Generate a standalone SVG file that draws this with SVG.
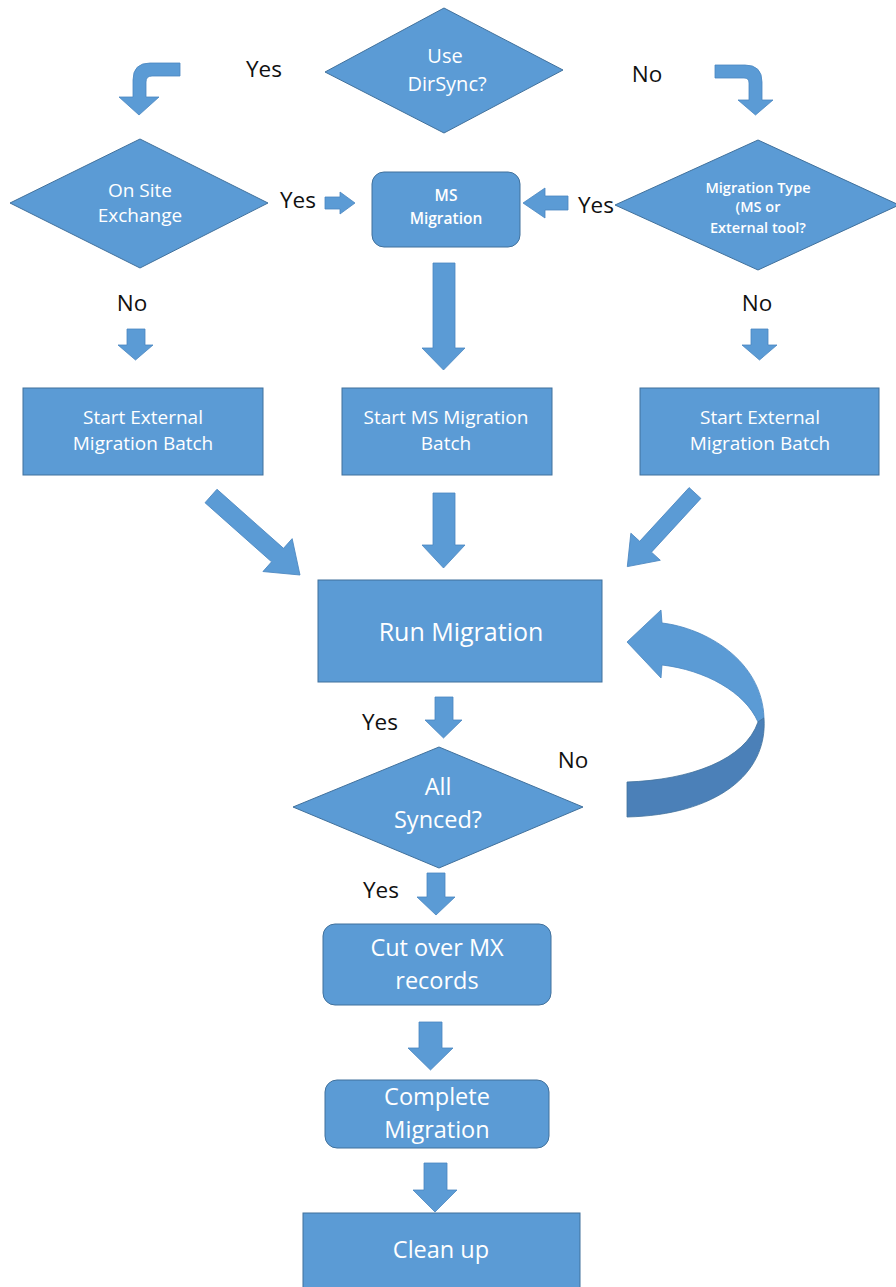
<svg xmlns="http://www.w3.org/2000/svg" width="896" height="1287" viewBox="0 0 896 1287">
<style>
.s{fill:#5B9BD5;stroke:#41719C;stroke-width:1}
.a{fill:#5B9BD5;stroke:#4a86c0;stroke-width:0.8}
.t{font-family:"Open Sans",Lato,sans-serif;fill:#fff;text-anchor:middle}
.l{font-family:"Open Sans",Lato,sans-serif;fill:#111;font-size:22.5px;text-anchor:middle}
</style>
<rect width="896" height="1287" fill="#fff"/>
<g id="connectors">
<path class="a" d="M180 63 L150 63 Q133 63 133 80 L133 97 L119 97 L139 115 L159 97 L146 97 L146 82 Q146 76 152 76 L180 76 Z"/>
<path class="a" d="M715 65 L745 65 Q762 65 762 82 L762 100 L773 100 L755.5 115 L738 100 L749 100 L749 83 Q749 78 744 78 L715 78 Z"/>
<path class="a" d="M325 197 L340 197 L340 192 L355 203 L340 214 L340 209 L325 209 Z"/>
<path class="a" d="M568 196 L545 196 L545 188 L523 203 L545 218 L545 210 L568 210 Z"/>
<path class="a" d="M433 263 L455 263 L455 348 L465 348 L443.5 370 L422 348 L433 348 Z"/>
<path class="a" d="M127 329 L145 329 L145 345 L153 345 L135.5 360 L118 345 L127 345 Z"/>
<path class="a" d="M751 329 L768 329 L768 345 L777 345 L759.5 360 L742 345 L751 345 Z"/>
<polygon class="a" transform="translate(211,496) rotate(41.6)" points="0,-9 89,-9 89,-22 119,0 89,22 89,9 0,9"/>
<path class="a" d="M433 493 L455 493 L455 545 L465 545 L443.5 568 L422 545 L433 545 Z"/>
<polygon class="a" transform="translate(695,493) rotate(132.6)" points="0,-8 73,-8 73,-20 100,0 73,20 73,8 0,8"/>
<path class="a" d="M435 697 L453 697 L453 720 L462 720 L443.5 738 L425 720 L435 720 Z"/>
<path class="a" d="M427 873 L445 873 L445 897 L455 897 L436 915 L417 897 L427 897 Z"/>
<path class="a" d="M419 1022 L442 1022 L442 1048 L453 1048 L430.5 1070 L408 1048 L419 1048 Z"/>
<path class="a" d="M424 1163 L447 1163 L447 1190 L457 1190 L435 1212 L413 1190 L424 1190 Z"/>
<path fill="#5B9BD5" stroke="#4a86c0" stroke-width="0.8" d="M627 642 L661 610 L662 623 C705 628 762 660 764 718 L758 722 C745 692 705 670 662 665 L661 678 Z"/>
<path fill="#4B80B8" stroke="#41719C" stroke-width="0.8" d="M764 718 C768 775 715 815 627 817 L627 782 C690 780 745 760 758 722 Z"/>
</g>
<g id="use-dirsync">
<polygon class="s" points="444,8 563,70 444,133 325,72"/>
<text class="t" font-size="20" x="445" y="63">Use</text>
<text class="t" font-size="20" x="447" y="91">DirSync?</text>
</g>
<g id="label-yes-1"><text class="l" x="264" y="77">Yes</text></g>
<g id="label-no-1"><text class="l" x="647" y="82">No</text></g>
<g id="on-site">
<polygon class="s" points="140,139 268,203 140,268 10,203"/>
<text class="t" font-size="19" x="140" y="197">On Site</text>
<text class="t" font-size="19" x="140" y="222">Exchange</text>
</g>
<g id="label-yes-2"><text class="l" x="298" y="208">Yes</text></g>
<g id="ms-migration">
<rect class="s" x="372" y="172" width="148" height="75" rx="12"/>
<text class="t" font-size="15.5" font-weight="600" x="446" y="201">MS</text>
<text class="t" font-size="15.5" font-weight="600" x="446" y="224">Migration</text>
</g>
<g id="label-yes-3"><text class="l" x="596" y="213">Yes</text></g>
<g id="migration-type">
<polygon class="s" points="758,140 899,205 758,270 615,205"/>
<text class="t" font-size="14.5" font-weight="600" x="758" y="193">Migration Type</text>
<text class="t" font-size="14.5" font-weight="600" x="758" y="212">(MS or</text>
<text class="t" font-size="14.5" font-weight="600" x="758" y="233">External tool?</text>
</g>
<g id="label-no-2"><text class="l" x="132" y="311">No</text></g>
<g id="label-no-3"><text class="l" x="757" y="311">No</text></g>
<g id="start-ext-left">
<rect class="s" x="23" y="388" width="240" height="87"/>
<text class="t" font-size="19" x="143" y="424">Start External</text>
<text class="t" font-size="19" x="143" y="450">Migration Batch</text>
</g>
<g id="start-ms">
<rect class="s" x="342" y="388" width="210" height="87"/>
<text class="t" font-size="19" x="446" y="424">Start MS Migration</text>
<text class="t" font-size="19" x="446" y="450">Batch</text>
</g>
<g id="start-ext-right">
<rect class="s" x="640" y="388" width="239" height="87"/>
<text class="t" font-size="19" x="760" y="424">Start External</text>
<text class="t" font-size="19" x="760" y="450">Migration Batch</text>
</g>
<g id="run-migration">
<rect class="s" x="318" y="580" width="284" height="102"/>
<text class="t" font-size="25" x="461" y="641">Run Migration</text>
</g>
<g id="label-yes-4"><text class="l" x="380" y="730">Yes</text></g>
<g id="all-synced">
<polygon class="s" points="439,747 583,807 439,868 293,807"/>
<text class="t" font-size="23.5" x="438" y="795">All</text>
<text class="t" font-size="23.5" x="438" y="828">Synced?</text>
</g>
<g id="label-no-4"><text class="l" x="573" y="768">No</text></g>
<g id="label-yes-5"><text class="l" x="381" y="898">Yes</text></g>
<g id="cut-over">
<rect class="s" x="323" y="924" width="228" height="81" rx="12"/>
<text class="t" font-size="23.5" x="437" y="956">Cut over MX</text>
<text class="t" font-size="23.5" x="437" y="989">records</text>
</g>
<g id="complete">
<rect class="s" x="325" y="1080" width="224" height="68" rx="12"/>
<text class="t" font-size="23.5" x="437" y="1105">Complete</text>
<text class="t" font-size="23.5" x="437" y="1138">Migration</text>
</g>
<g id="clean-up">
<rect class="s" x="303" y="1213" width="277" height="80"/>
<text class="t" font-size="23.5" x="441" y="1258">Clean up</text>
</g>
</svg>
